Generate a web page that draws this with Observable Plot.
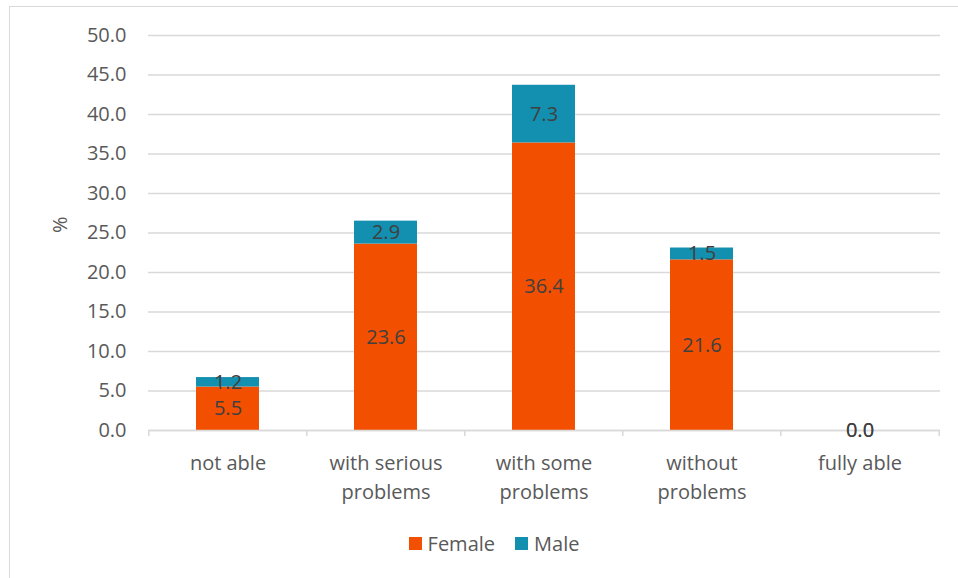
<!DOCTYPE html>
<html>
<head>
<meta charset="utf-8">
<script src="https://cdn.jsdelivr.net/npm/d3@7"></script>
<script src="https://cdn.jsdelivr.net/npm/@observablehq/plot@0.6"></script>
<style>
  html, body { margin: 0; padding: 0; background: #fff; }
  body { width: 958px; height: 578px; position: relative; overflow: hidden; font-family: "Open Sans", Lato, sans-serif; }
  #frame { position: absolute; left: 9px; top: 6px; width: 1000px; height: 620px; border: 1.5px solid #d9d9d9; box-sizing: border-box; }
  #chart { position: absolute; left: 0; top: 0; }
  #legend { position: absolute; top: 530px; left: 0; width: 988px; display: flex; justify-content: center; gap: 20px; font-size: 20px; color: #595959; }
  #legend span.item { display: flex; align-items: center; gap: 6px; }
  #legend span.sw { width: 13px; height: 13px; display: inline-block; }
</style>
</head>
<body>
<div id="frame"></div>
<div id="chart"></div>
<div id="legend"></div>
<script>
const categories = ["not able", "with serious\nproblems", "with some\nproblems", "without\nproblems", "fully able"];
const series = ["Female", "Male"];
const femaleValues = [5.5, 23.6, 36.4, 21.6, 0.0];
const maleValues = [1.2, 2.9, 7.3, 1.5, 0.0];
const yTicks = [0, 5, 10, 15, 20, 25, 30, 35, 40, 45, 50];
const yLabel = "%";
const colors = ["#F24F00", "#138FAF"];

const data = [];
categories.forEach((c, i) => data.push({category: c, series: "Female", value: femaleValues[i]}));
categories.forEach((c, i) => data.push({category: c, series: "Male", value: maleValues[i]}));

const W = 958, H = 520;
const mL = 148, mR = 18;
const bw = (W - mL - mR) / categories.length;
const font = "'Open Sans', Lato, sans-serif";

const chart = Plot.plot({
  width: W,
  height: H,
  marginLeft: mL,
  marginRight: mR,
  marginTop: 35,
  marginBottom: 90,
  style: {fontFamily: font, fontSize: "20px", color: "#595959", background: "transparent"},
  x: {domain: categories, paddingInner: 0.6, paddingOuter: 0.3, label: null},
  y: {domain: [0, 50], ticks: yTicks, label: null},
  color: {domain: series, range: colors},
  marks: [
    Plot.gridY(yTicks, {stroke: "#d9d9d9", strokeOpacity: 1, strokeWidth: 1.3}),
    Plot.axisY(yTicks, {tickSize: 0, tickPadding: 22, tickFormat: d => d.toFixed(1), fill: "#595959", fontSize: 20, label: null}),
    Plot.axisX({tickSize: 0, tickPadding: 19, fill: "#595959", fontSize: 20, lineHeight: 1.45, label: null}),
    Plot.text([yLabel], {frameAnchor: "left", dx: -88, rotate: -90, fill: "#595959", fontSize: 20}),
    Plot.barY(data, Plot.stackY({x: "category", y: "value", fill: "series", order: series})),
    Plot.ruleY([0], {stroke: "#d9d9d9", strokeWidth: 1.5}),
    Plot.ruleX(categories, {x: d => d, y1: 0, y2: -0.76, dx: -bw / 2, stroke: "#d9d9d9", strokeWidth: 1.5}),
    Plot.ruleX(categories.slice(-1), {x: d => d, y1: 0, y2: -0.76, dx: bw / 2, stroke: "#d9d9d9", strokeWidth: 1.5}),
    Plot.text(data, Plot.stackY({x: "category", y: "value", z: "series", order: series, text: d => d.value.toFixed(1), fill: "#404040", fontSize: 20}))
  ]
});
document.getElementById("chart").appendChild(chart);

const legend = document.getElementById("legend");
series.forEach((s, i) => {
  const item = document.createElement("span");
  item.className = "item";
  const sw = document.createElement("span");
  sw.className = "sw";
  sw.style.background = colors[i];
  item.appendChild(sw);
  item.appendChild(document.createTextNode(s));
  legend.appendChild(item);
});
</script>
</body>
</html>
